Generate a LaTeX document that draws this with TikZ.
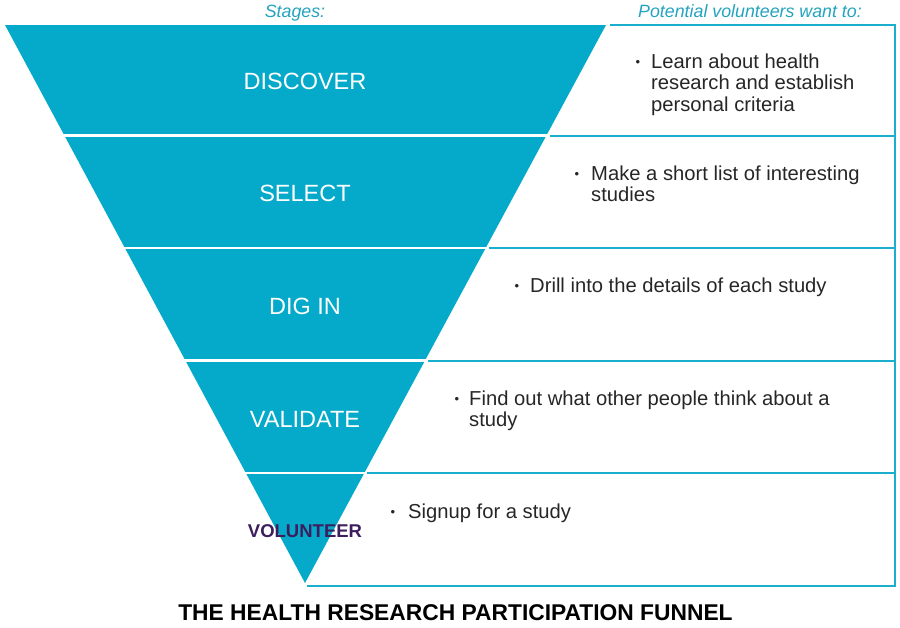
\documentclass[tikz,border=0pt]{standalone}
\usepackage{fontspec}
\setmainfont{Liberation Sans}
\definecolor{funnel}{HTML}{05AACB}
\definecolor{rulec}{HTML}{1AAFCD}
\definecolor{headc}{HTML}{23A3BE}
\definecolor{bodyc}{HTML}{262626}
\definecolor{volc}{HTML}{3C1E5E}
\begin{document}
\begin{tikzpicture}[x=1pt,y=-1pt,
  stage/.style={font=\fontsize{23.5}{23.5}\selectfont, text=white, anchor=base, inner sep=0pt},
  item/.style={font=\fontsize{20.2}{21.5}\selectfont, text=bodyc, anchor=base west, inner sep=0pt, align=left},
  bul/.style={font=\fontsize{13}{13}\selectfont, text=bodyc, anchor=base, inner sep=0pt},
  hdr/.style={font=\fontsize{17.8}{17.8}\selectfont\itshape, text=headc, anchor=base, inner sep=0pt},
  boxline/.style={draw=rulec, line width=2pt},
  sepline/.style={draw=white, line width=2.5pt}]
\useasboundingbox (0,0) rectangle (900,627);
% headers
\node[hdr] (stg) at (295,17) {Stages:};
\node[hdr] (pvw) at (750,17) {Potential volunteers want to:};
% funnel
\fill[funnel] (5,25) -- (606,25) -- (305,583) -- cycle;
\draw[sepline] (62,135.5) -- (549,135.5);
\draw[sepline] (122,248) -- (488,248);
\draw[sepline] (183,360.5) -- (427,360.5);
\draw[sepline] (243,473) -- (366,473);
% right boxes
\draw[boxline] (610,25) -- (895,25) -- (895,585.5) -- (307,585.5);
\draw[boxline] (550,135.5) -- (895,135.5);
\draw[boxline] (489,248) -- (895,248);
\draw[boxline] (428,360.5) -- (895,360.5);
\draw[boxline] (367,473) -- (895,473);
% stage labels
\node[stage] (s1) at (305,89) {DISCOVER};
\node[stage] (s2) at (305,201) {SELECT};
\node[stage] (s3) at (305,314) {DIG IN};
\node[stage] (s4) at (305,427) {VALIDATE};
\node[font=\fontsize{18.5}{18.5}\selectfont\bfseries, text=volc, anchor=base, inner sep=0pt] (s5) at (305,537) {VOLUNTEER};
% items (base anchor = last line's baseline)
\node[bul] (b1) at (638,66) {•};
\node[item] (t1) at (651,111) {Learn about health\\research and establish\\personal criteria};
\node[bul] (b2) at (577,178) {•};
\node[item] (t2) at (591,201.5) {Make a short list of interesting\\studies};
\node[bul] (b3) at (517,290) {•};
\node[item] (t3) at (530,292) {Drill into the details of each study};
\node[bul] (b4) at (457,403) {•};
\node[item] (t4) at (469,426.5) {Find out what other people think about a\\study};
\node[bul] (b5) at (393,516) {•};
\node[item] (t5) at (408,518) {Signup for a study};
% title
\node[font=\fontsize{22.8}{22.8}\selectfont\bfseries, text=black, anchor=base, inner sep=0pt] (title) at (455.5,620) {THE HEALTH RESEARCH PARTICIPATION FUNNEL};
\end{tikzpicture}
\end{document}
